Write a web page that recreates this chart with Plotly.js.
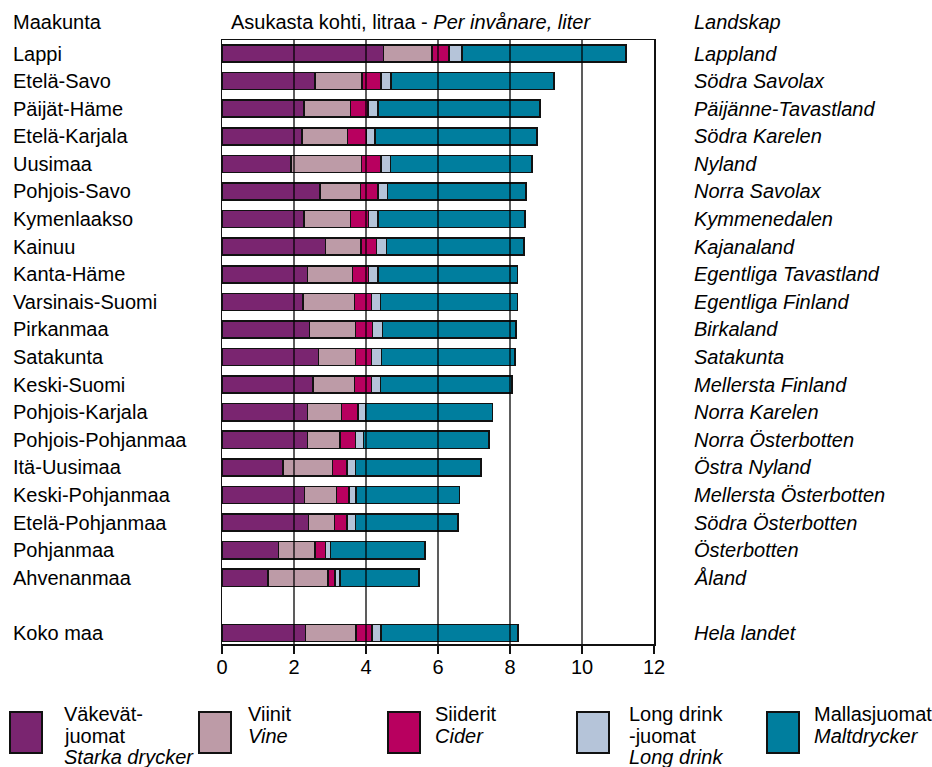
<!DOCTYPE html>
<html><head><meta charset="utf-8">
<script src="https://cdn.plot.ly/plotly-3.0.1.min.js"></script>
<style>html,body{margin:0;padding:0;background:#fff}#chart{width:932px;height:767px}</style>
</head><body><div id="chart"></div>
<script>
// ---- DATA ----
const regionsFi = ['Lappi','Etelä-Savo','Päijät-Häme','Etelä-Karjala','Uusimaa','Pohjois-Savo','Kymenlaakso','Kainuu','Kanta-Häme','Varsinais-Suomi','Pirkanmaa','Satakunta','Keski-Suomi','Pohjois-Karjala','Pohjois-Pohjanmaa','Itä-Uusimaa','Keski-Pohjanmaa','Etelä-Pohjanmaa','Pohjanmaa','Ahvenanmaa','Koko maa'];
const regionsSv = ['Lappland','Södra Savolax','Päijänne-Tavastland','Södra Karelen','Nyland','Norra Savolax','Kymmenedalen','Kajanaland','Egentliga Tavastland','Egentliga Finland','Birkaland','Satakunta','Mellersta Finland','Norra Karelen','Norra Österbotten','Östra Nyland','Mellersta Österbotten','Södra Österbotten','Österbotten','Åland','Hela landet'];
const vakevat   = [4.49,2.58,2.28,2.23,1.91,2.72,2.28,2.88,2.37,2.25,2.43,2.68,2.52,2.37,2.37,1.69,2.29,2.40,1.57,1.27,2.32];
const viinit    = [1.34,1.31,1.29,1.26,1.97,1.13,1.29,0.98,1.26,1.43,1.28,1.03,1.16,0.95,0.91,1.38,0.89,0.72,1.02,1.68,1.40];
const siiderit  = [0.48,0.53,0.48,0.52,0.53,0.49,0.50,0.43,0.44,0.47,0.47,0.44,0.47,0.45,0.43,0.40,0.34,0.36,0.28,0.19,0.45];
const longdrink = [0.36,0.27,0.28,0.24,0.27,0.26,0.26,0.28,0.26,0.25,0.28,0.28,0.25,0.22,0.22,0.24,0.20,0.23,0.14,0.14,0.25];
const mallas    = [4.55,4.53,4.50,4.50,3.93,3.84,4.09,3.82,3.88,3.81,3.71,3.71,3.66,3.52,3.48,3.49,2.88,2.85,2.63,2.20,3.80];
const xTicks = [0,2,4,6,8,10,12];
const seriesColors = ['#7A2570','#BD9BA7','#B8005F','#B5C4D9','#007E9E'];
const seriesNames = ['Väkevät-juomat','Viinit','Siiderit','Long drink -juomat','Mallasjuomat'];
const legendLines = [['Väkevät-','juomat','<i>Starka drycker</i>'],['Viinit','<i>Vine</i>'],['Siiderit','<i>Cider</i>'],['Long drink','-juomat','<i>Long drink</i>'],['Mallasjuomat','<i>Maltdrycker</i>']];

// ---- LAYOUT HELPERS ----
const W=932,H=767,ML=222,MR=278,MT=40,MB=123;
const PW=W-ML-MR, PH=H-MT-MB;
const px=x=>(x-ML)/PW, py=y=>1-(y-MT)/PH;
const FONT='"Liberation Sans", Arial, sans-serif';
const FS=20;

// total row separated by one blank slot
const yPos = regionsFi.map((_,i)=> i < regionsFi.length-1 ? i : i+1);

const seriesData=[vakevat,viinit,siiderit,longdrink,mallas];
const traces = seriesData.map((vals,k)=>({
  type:'bar', orientation:'h', x:vals, y:yPos, name:seriesNames[k],
  width:0.62, marker:{color:seriesColors[k], line:{color:'#111', width:1.6}},
  hoverinfo:'x', showlegend:false
}));

const ann=[];
regionsFi.forEach((t,i)=>{
  ann.push({xref:'paper',yref:'y',x:px(11),y:yPos[i],xanchor:'left',yanchor:'middle',text:t,showarrow:false,font:{family:FONT,size:FS,color:'#000'}});
  ann.push({xref:'paper',yref:'y',x:px(692),y:yPos[i],xanchor:'left',yanchor:'middle',text:'<i>'+regionsSv[i]+'</i>',showarrow:false,font:{family:FONT,size:FS,color:'#000'}});
});
ann.push({xref:'paper',yref:'paper',x:px(11),y:py(22),xanchor:'left',yanchor:'middle',text:'Maakunta',showarrow:false,font:{family:FONT,size:FS,color:'#000'}});
ann.push({xref:'paper',yref:'paper',x:px(229),y:py(22),xanchor:'left',yanchor:'middle',text:'Asukasta kohti, litraa - <i>Per invånare, liter</i>',showarrow:false,font:{family:FONT,size:FS,color:'#000'}});
ann.push({xref:'paper',yref:'paper',x:px(692),y:py(22),xanchor:'left',yanchor:'middle',text:'<i>Landskap</i>',showarrow:false,font:{family:FONT,size:FS,color:'#000'}});

const shapes=[];
xTicks.filter(v=>v>0 && v<12).forEach(v=>{
  shapes.push({type:'line',xref:'x',yref:'paper',x0:v,x1:v,y0:0,y1:1,layer:'above',line:{color:'rgba(0,0,0,0.85)',width:1.5}});
});
// legend
const boxX=[10,199,388,577,767], textX=[62,246,433,627,812], lineY=[714,736,757];
seriesColors.forEach((c,k)=>{
  shapes.push({type:'rect',xref:'paper',yref:'paper',x0:px(boxX[k]),x1:px(boxX[k]+32),y0:py(712),y1:py(753),fillcolor:c,line:{color:'#111',width:2}});
  legendLines[k].forEach((t,j)=>{
    ann.push({xref:'paper',yref:'paper',x:px(textX[k]),y:py(lineY[j]),xanchor:'left',yanchor:'middle',text:t,showarrow:false,font:{family:FONT,size:FS,color:'#000'}});
  });
});

const layout={
  width:W,height:H,margin:{l:ML,r:MR,t:MT,b:MB,pad:0},
  paper_bgcolor:'#fff',plot_bgcolor:'#fff',barmode:'stack',bargap:0.38,
  font:{family:FONT,size:FS,color:'#000'},
  xaxis:{range:[0,12],tickvals:xTicks,ticktext:xTicks.map(String),showgrid:false,zeroline:false,
    showline:true,mirror:true,linecolor:'#111',linewidth:1.5,ticks:'outside',ticklen:8,tickwidth:1.5,tickcolor:'#111',
    ticklabelstandoff:-4,
    tickfont:{family:FONT,size:FS,color:'#000'},fixedrange:true},
  yaxis:{range:[21.4,-0.49],showticklabels:false,showgrid:false,zeroline:false,showline:true,mirror:true,
    linecolor:'#111',linewidth:1.5,ticks:'',fixedrange:true,layer:'above traces'},
  annotations:ann, shapes:shapes, showlegend:false
};
Plotly.newPlot('chart',traces,layout,{displayModeBar:false,staticPlot:true});
</script></body></html>
